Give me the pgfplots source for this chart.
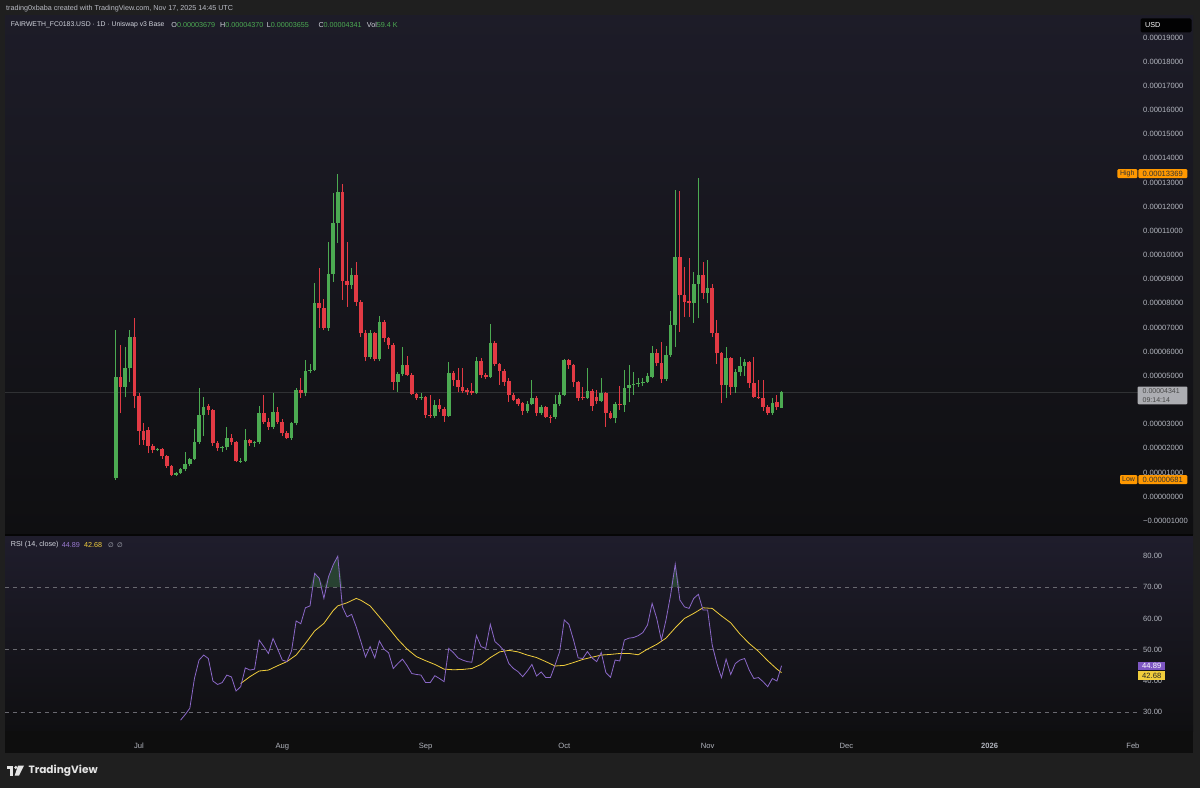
\documentclass[border=0pt]{standalone}
\usepackage{pgfplots}
\pgfplotsset{compat=1.18}
\usepackage{pgfplotstable}
\usepackage{fontspec}
\setmainfont{Liberation Sans}
\newfontfamily\djv{DejaVu Sans}
\newfontfamily\logofont{Poppins}

\definecolor{frame}{RGB}{31,31,31}
\definecolor{tvgreen}{RGB}{76,170,82}
\definecolor{tvred}{RGB}{226,58,68}
\definecolor{tvtext}{RGB}{178,181,190}
\definecolor{tvhead}{RGB}{209,212,220}
\definecolor{tvpurple}{RGB}{126,87,194}
\definecolor{tvyellow}{RGB}{240,205,60}
\definecolor{tvorange}{RGB}{255,152,0}
\definecolor{paneTop}{RGB}{29,28,40}
\definecolor{paneBot}{RGB}{15,15,17}
\definecolor{rsiTop}{RGB}{31,29,44}
\definecolor{dashc}{RGB}{105,105,112}
\definecolor{tagGray}{RGB}{172,173,178}

\newcommand{\fs}{\fontsize{7.6}{9}\selectfont}
\newcommand{\fh}{\fontsize{7.2}{9}\selectfont}

\pgfplotsset{
  wick/.style={forget plot, only marks, mark=*, mark size=0pt, mark options={draw=none, fill=none},
    error bars/.cd, y dir=plus, y explicit, error mark=none,
    error bar style={draw=#1, line width=0.9pt}},
  body/.style={forget plot, only marks, mark=*, mark size=0pt, mark options={draw=none, fill=none},
    error bars/.cd, y dir=plus, y explicit, error mark=none,
    error bar style={draw=#1, line width=3.6pt}},
}

\pgfplotstableread{
d o h l c
-5 0.76 6.90 0.681 4.94
-3 4.55 6.21 4.11 5.31
-2 5.31 6.90 4.76 6.59
4 1.93 2.00 1.88 1.96
8 0.90 1.02 0.86 0.99
9 0.99 1.20 0.95 1.13
10 1.13 1.86 1.05 1.35
11 1.35 1.60 1.25 1.54
12 1.54 2.79 1.50 2.28
13 2.28 4.48 2.20 3.38
14 3.38 4.11 2.50 3.72
18 2.00 2.10 1.85 2.04
19 2.04 2.90 1.95 2.41
22 1.46 1.60 1.40 1.49
23 1.49 2.79 1.45 2.35
25 2.21 2.30 2.05 2.25
26 2.25 3.75 2.20 3.45
29 2.90 4.28 2.80 3.52
33 2.41 3.10 2.35 3.03
34 3.03 4.50 2.95 4.41
36 4.28 5.66 4.15 5.21
37 5.21 5.50 5.10 5.26
38 5.26 8.83 5.20 8.03
41 6.96 10.55 6.85 9.23
42 9.23 12.55 8.90 11.34
43 11.34 13.369 10.50 12.62
46 8.76 9.45 8.60 9.17
50 5.76 6.90 5.70 6.76
52 5.68 7.48 5.60 7.24
56 4.76 5.15 4.35 5.08
57 5.08 6.20 5.00 5.45
61 4.07 4.30 4.02 4.11
64 3.34 4.00 3.25 3.79
67 3.34 5.59 3.30 5.13
73 4.28 5.79 4.25 5.63
76 4.94 7.14 4.90 6.37
84 3.56 3.95 3.45 3.84
85 3.84 4.83 3.80 4.07
87 3.45 3.80 3.40 3.70
90 3.31 4.21 3.20 3.84
91 3.84 4.35 3.75 4.21
92 4.21 5.70 4.15 5.66
97 4.10 5.31 4.05 4.39
100 3.97 4.90 3.90 4.28
103 3.24 3.90 3.03 3.84
105 3.79 5.24 3.50 4.48
106 4.48 5.45 3.90 4.61
107 4.61 5.17 4.20 4.65
108 4.65 4.90 4.55 4.69
109 4.69 4.90 4.60 4.75
110 4.75 5.10 4.70 4.99
111 4.97 6.24 4.90 5.93
114 4.85 6.24 4.80 5.86
115 5.86 7.70 5.80 7.10
116 7.10 12.69 6.20 9.90
120 8.03 9.30 7.20 8.80
121 8.80 13.17 7.38 9.17
123 8.44 9.80 8.00 8.62
127 4.62 6.20 4.10 5.72
129 4.55 5.30 4.30 5.17
130 5.17 5.79 5.00 5.41
131 5.41 5.70 5.00 5.56
137 3.48 4.07 3.40 3.89
139 3.679 4.370 3.655 4.341
}\upTable

\pgfplotstableread{
d o h l c
-4 4.94 6.27 3.45 4.55
-1 6.59 7.38 3.65 4.17
0 4.17 4.30 2.14 2.73
1 2.73 3.03 2.14 2.35
2 2.76 2.90 1.79 2.10
3 2.10 2.20 1.79 1.93
5 1.96 2.02 1.55 1.68
6 1.68 1.72 1.20 1.27
7 1.27 1.30 0.85 0.90
15 3.75 3.85 3.40 3.59
16 3.59 3.62 2.10 2.21
17 2.21 2.30 1.90 2.00
20 2.41 2.60 2.15 2.25
21 2.25 2.30 1.42 1.46
24 2.35 2.40 2.10 2.21
27 3.45 4.21 3.00 3.10
28 3.10 3.25 2.75 2.90
30 3.52 3.70 3.00 3.10
31 3.10 3.20 2.50 2.62
32 2.62 2.70 2.38 2.41
35 4.41 4.90 4.10 4.28
39 8.03 9.45 7.00 7.79
40 7.79 8.20 6.90 6.96
44 12.62 12.94 8.14 8.94
45 8.94 10.55 7.86 8.76
47 9.17 9.72 7.90 8.06
48 8.06 8.15 6.60 6.76
49 6.76 6.90 5.60 5.76
51 6.76 6.80 5.60 5.68
53 7.24 7.30 6.40 6.55
54 6.55 6.60 6.10 6.28
55 6.28 6.35 4.40 4.76
58 5.45 5.82 5.00 5.03
59 5.03 5.10 4.20 4.25
60 4.25 4.30 4.00 4.07
62 4.11 4.15 3.25 3.38
63 3.38 4.21 3.25 3.34
65 3.79 4.05 3.50 3.61
66 3.61 3.70 3.10 3.34
68 5.13 5.20 4.60 4.83
69 4.83 5.31 4.35 4.52
70 4.52 5.31 4.30 4.38
71 4.41 4.50 4.20 4.33
72 4.38 4.69 4.20 4.28
74 5.63 5.72 4.90 5.03
75 5.03 5.10 4.85 4.94
77 6.37 6.45 5.40 5.49
78 5.49 5.55 4.62 5.21
79 5.21 5.28 4.60 4.76
80 4.80 4.90 3.93 4.21
81 4.21 4.30 3.95 4.00
82 4.03 4.10 3.75 3.84
83 3.86 3.90 3.38 3.56
86 4.07 4.15 3.35 3.45
88 3.70 3.75 3.25 3.31
89 3.31 3.40 3.06 3.28
93 5.66 5.70 5.30 5.45
94 5.45 5.50 4.55 4.76
95 4.76 4.80 3.95 4.07
96 4.11 4.55 4.00 4.08
98 4.39 4.45 3.55 3.75
99 4.14 4.40 3.85 3.97
101 4.28 4.35 2.90 3.47
102 3.47 3.55 3.20 3.24
104 3.84 4.60 3.60 3.79
112 5.96 6.10 5.40 5.52
113 5.54 6.40 4.70 4.85
117 9.90 12.66 6.83 8.34
118 8.34 9.52 7.45 8.07
119 8.10 9.86 7.45 8.03
122 9.17 9.73 8.20 8.41
124 8.62 8.80 6.60 6.78
125 6.78 7.30 5.50 5.93
126 5.93 6.00 3.86 4.62
128 5.72 5.80 4.20 4.55
132 5.56 5.60 4.50 4.69
133 4.69 5.80 4.10 4.14
134 4.14 4.82 4.05 4.10
135 4.10 4.82 3.55 3.72
136 3.72 3.80 3.38 3.48
138 3.90 4.20 3.60 3.70
}\downTable

\pgfplotstableread{
d r
9 27.5
10 29.3
11 31.3
12 40.8
13 46.7
14 48.3
15 47.2
16 40.0
17 38.9
18 39.5
19 41.9
20 41.3
21 36.8
22 38.2
23 44.2
24 43.5
25 43.8
26 53.1
27 51.0
28 48.8
29 53.6
30 50.2
31 46.7
32 46.2
33 49.6
34 59.2
35 58.3
36 63.4
37 64.0
38 74.4
39 72.8
40 66.4
41 73.3
42 77.1
43 79.9
44 63.7
45 60.5
46 61.3
47 57.3
48 52.6
49 47.7
50 51.0
51 47.4
52 52.8
53 50.2
54 49.0
55 44.0
56 45.6
57 47.0
58 44.9
59 42.4
60 42.1
61 41.9
62 39.5
63 39.5
64 41.7
65 40.8
66 39.8
67 50.4
68 49.1
69 47.4
70 46.7
71 46.2
72 46.0
73 54.5
74 51.0
75 50.4
76 58.1
77 52.6
78 51.3
79 49.6
80 45.6
81 44.0
82 43.0
83 41.4
84 43.2
85 45.3
86 41.6
87 42.9
88 41.1
89 41.1
90 45.1
91 49.4
92 59.5
93 58.1
94 53.1
95 47.4
96 47.2
97 49.4
98 47.4
99 46.2
100 49.1
101 42.7
102 41.2
103 46.7
104 46.4
105 53.1
106 53.7
107 53.9
108 54.5
109 55.5
110 57.9
111 64.8
112 60.0
113 53.1
114 59.5
115 67.5
116 77.3
117 65.9
118 63.7
119 63.2
120 66.4
121 67.7
122 62.7
123 62.7
124 51.5
125 45.6
126 41.1
127 47.0
128 42.1
129 45.6
130 46.7
131 47.2
132 43.5
133 40.8
134 41.1
135 39.8
136 38.2
137 40.8
138 40.0
139 44.89
}\rsiTable

\pgfplotstableread{
d m
22 39.2
24 41.4
26 43.2
28 43.5
30 44.9
32 46.2
34 48.3
36 52.0
38 56.0
40 58.4
42 62.5
43 64.0
45 65.0
47 66.4
48 65.8
50 64.0
52 60.5
54 57.0
56 53.3
58 50.2
60 47.8
62 46.5
64 45.3
66 43.8
68 43.6
70 43.7
72 44.0
74 45.3
76 47.5
78 49.3
80 49.8
82 49.3
84 48.3
86 47.5
88 46.2
90 44.8
92 45.0
94 45.9
96 46.9
98 47.6
100 48.3
102 48.5
104 48.8
106 48.8
108 48.4
110 50.2
112 51.7
114 53.7
116 57.0
118 60.0
120 61.6
122 63.4
124 63.2
126 60.8
128 58.6
130 55.0
132 52.0
134 49.5
136 46.5
138 43.8
139 42.68
}\maTable

\begin{document}
\begin{tikzpicture}
% frame and backgrounds
\path[use as bounding box, fill=frame] (0pt,0pt) rectangle (1200pt,-788pt);
\shade[top color=paneTop, bottom color=paneBot] (5pt,-15pt) rectangle (1193pt,-534pt);
\fill[black!80!frame] (5pt,-533.5pt) rectangle (1193pt,-536pt);
\shade[top color=rsiTop, bottom color=paneBot] (5pt,-536pt) rectangle (1193pt,-731pt);
\fill[black!55!frame] (5pt,-731pt) rectangle (1193pt,-753pt);

% header texts
\node[anchor=west, inner sep=0pt, text=tvtext!90!white, font=\fh] at (6pt,-8.5pt) {trading0xbaba created with TradingView.com, Nov 17, 2025 14:45 UTC};
\node[anchor=west, inner sep=0pt, text=tvhead, font=\fontsize{6.85}{9}\selectfont] at (10.7pt,-25pt) {FAIRWETH\_FC0183.USD · 1D · Uniswap v3 Base};
\node[anchor=west, inner sep=0pt, text=tvhead, font=\fh] at (171.2pt,-25pt) {O\textcolor{tvgreen}{0.00003679}};
\node[anchor=west, inner sep=0pt, text=tvhead, font=\fh] at (220pt,-25pt) {H\textcolor{tvgreen}{0.00004370}};
\node[anchor=west, inner sep=0pt, text=tvhead, font=\fh] at (266.7pt,-25pt) {L\textcolor{tvgreen}{0.00003655}};
\node[anchor=west, inner sep=0pt, text=tvhead, font=\fh] at (318.3pt,-25pt) {C\textcolor{tvgreen}{0.00004341}};
\node[anchor=west, inner sep=0pt, text=tvhead, font=\fh] at (366.7pt,-25pt) {Vol\textcolor{tvgreen}{59.4 K}};

% price line
\draw[black!45!tvtext!40!paneBot, line width=0.5pt] (5pt,-391.8pt) -- (1138pt,-391.8pt);

% PRICE AXIS
\begin{axis}[
  at={(5pt,-16pt)}, anchor=north west,
  width=1133pt, height=517pt, scale only axis,
  xmin=-28.98, xmax=216.1, ymin=-1.502, ymax=19.888,
  axis line style={draw=none}, major tick length=0pt,
  xtick=\empty,
  ytick={-1,0,1,2,3,5,6,7,8,9,10,11,12,13,14,15,16,17,18,19},
  yticklabels={−0.00001000,0.00000000,0.00001000,0.00002000,0.00003000,0.00005000,0.00006000,0.00007000,0.00008000,0.00009000,0.00010000,0.00011000,0.00012000,0.00013000,0.00014000,0.00015000,0.00016000,0.00017000,0.00018000,0.00019000},
  yticklabel pos=right,
  yticklabel style={anchor=west, inner sep=0pt, xshift=5pt, font=\fs, text=tvtext},
]
\addplot[wick=tvgreen] table[x=d, y=l, y error plus expr=\thisrow{h}-\thisrow{l}] {\upTable};
\addplot[body=tvgreen] table[x=d, y=o, y error plus expr=\thisrow{c}-\thisrow{o}] {\upTable};
\addplot[wick=tvred] table[x=d, y=l, y error plus expr=\thisrow{h}-\thisrow{l}] {\downTable};
\addplot[body=tvred] table[x=d, y=c, y error plus expr=\thisrow{o}-\thisrow{c}] {\downTable};
\end{axis}

% RSI overbought fill (stacked area above the 70 level)
\begin{axis}[
  at={(5pt,-536pt)}, anchor=north west,
  width=1133pt, height=194pt, scale only axis,
  xmin=-28.98, xmax=216.1, ymin=24.35, ymax=86.33,
  hide axis, stack plots=y,
]
\addplot[forget plot, draw=none] table[x=d, y expr=70] {\rsiTable};
\addplot[forget plot, draw=none, fill=tvgreen, fill opacity=0.28] table[x=d, y expr={max(\thisrow{r},70)-70}] {\rsiTable} \closedcycle;
\end{axis}

% RSI AXIS
\begin{axis}[
  at={(5pt,-536pt)}, anchor=north west,
  width=1133pt, height=194pt, scale only axis,
  xmin=-28.98, xmax=216.1, ymin=24.35, ymax=86.33,
  axis line style={draw=none}, major tick length=0pt,
  xtick={0,31,62,92,123,153,184,215},
  xticklabels={Jul,Aug,Sep,Oct,Nov,Dec,\textbf{2026},Feb},
  xticklabel style={anchor=base, inner sep=0pt, yshift=-18pt, font=\fs, text=tvtext},
  ytick={30,40,50,60,70,80},
  yticklabels={30.00,40.00,50.00,60.00,70.00,80.00},
  yticklabel pos=right,
  yticklabel style={anchor=west, inner sep=0pt, xshift=5pt, font=\fs, text=tvtext},
]
\addplot[forget plot, dashc, dash pattern=on 4pt off 4pt, line width=0.6pt] coordinates {(-28.98,70) (216.1,70)};
\addplot[forget plot, dashc, dash pattern=on 4pt off 4pt, line width=0.6pt] coordinates {(-28.98,50) (216.1,50)};
\addplot[forget plot, dashc, dash pattern=on 4pt off 4pt, line width=0.6pt] coordinates {(-28.98,30) (216.1,30)};
\addplot[forget plot, tvyellow, line width=0.8pt] table[x=d, y=m] {\maTable};
\addplot[forget plot, tvpurple!90!white, line width=0.8pt] table[x=d, y=r] {\rsiTable};
\end{axis}

% RSI header
\node[anchor=west, inner sep=0pt, text=tvhead, font=\fh] at (10.7pt,-545pt) {RSI (14, close)};
\node[anchor=west, inner sep=0pt, text=tvpurple!80!white, font=\fh] at (61.7pt,-545pt) {44.89};
\node[anchor=west, inner sep=0pt, text=tvyellow, font=\fh] at (84pt,-545pt) {42.68};
\node[anchor=west, inner sep=0pt, text=tvtext, font=\fontsize{6.5}{8}\djv] at (108pt,-545pt) {∅};
\node[anchor=west, inner sep=0pt, text=tvtext, font=\fontsize{6.5}{8}\djv] at (117pt,-545pt) {∅};

% USD box
\fill[black!85!paneBot, rounded corners=1.5pt] (1140.5pt,-18.3pt) rectangle (1191.5pt,-32.3pt);
\node[anchor=west, inner sep=0pt, text=white, font=\fontsize{7.2}{9}\selectfont] at (1145pt,-25.3pt) {USD};

% High / Low tags
\fill[tvorange, rounded corners=1pt] (1117.3pt,-169.2pt) rectangle (1137.3pt,-178pt);
\node[inner sep=0pt, text=black!80, font=\fontsize{7}{8}\selectfont] at (1127.3pt,-173.6pt) {High};
\fill[tvorange, rounded corners=1pt] (1138.3pt,-169.2pt) rectangle (1187.3pt,-178pt);
\node[anchor=west, inner sep=0pt, text=black!80, font=\fs] at (1142.5pt,-173.6pt) {0.00013369};
\fill[tvorange, rounded corners=1pt] (1120pt,-475.2pt) rectangle (1137.3pt,-484pt);
\node[inner sep=0pt, text=black!80, font=\fontsize{7}{8}\selectfont] at (1128.6pt,-479.6pt) {Low};
\fill[tvorange, rounded corners=1pt] (1138.3pt,-475.2pt) rectangle (1187.3pt,-484pt);
\node[anchor=west, inner sep=0pt, text=black!80, font=\fs] at (1142.5pt,-479.6pt) {0.00000681};

% current price tag
\fill[tagGray, rounded corners=1pt] (1137.7pt,-386.5pt) rectangle (1187.3pt,-404.3pt);
\node[anchor=west, inner sep=0pt, align=left, text=black!72, font=\fontsize{7}{8.6}\selectfont] at (1142.5pt,-395.4pt) {0.00004341\\09:14:14};

% RSI value tags
\fill[tvpurple] (1138.3pt,-661.7pt) rectangle (1165pt,-670.3pt);
\node[anchor=west, inner sep=0pt, text=white, font=\fs] at (1142pt,-666pt) {44.89};
\fill[tvyellow] (1138.3pt,-671pt) rectangle (1165pt,-680pt);
\node[anchor=west, inner sep=0pt, text=black!85, font=\fs] at (1142pt,-675.5pt) {42.68};

% logo
\fill[white!88!frame] (6.7pt,-765.7pt) rectangle (13.3pt,-769.3pt);
\fill[white!88!frame] (9.8pt,-765.7pt) rectangle (13.3pt,-775.7pt);
\fill[white!88!frame] (15.8pt,-767.4pt) circle (1.7pt);
\fill[white!88!frame] (18pt,-765.7pt) -- (24pt,-765.7pt) -- (19pt,-775.7pt) -- (14.6pt,-775.7pt) -- cycle;
\node[anchor=west, inner sep=0pt, text=white!88!frame, font=\fontsize{10.6}{12}\logofont\bfseries] at (28.3pt,-770.5pt) {TradingView};
\end{tikzpicture}
\end{document}
